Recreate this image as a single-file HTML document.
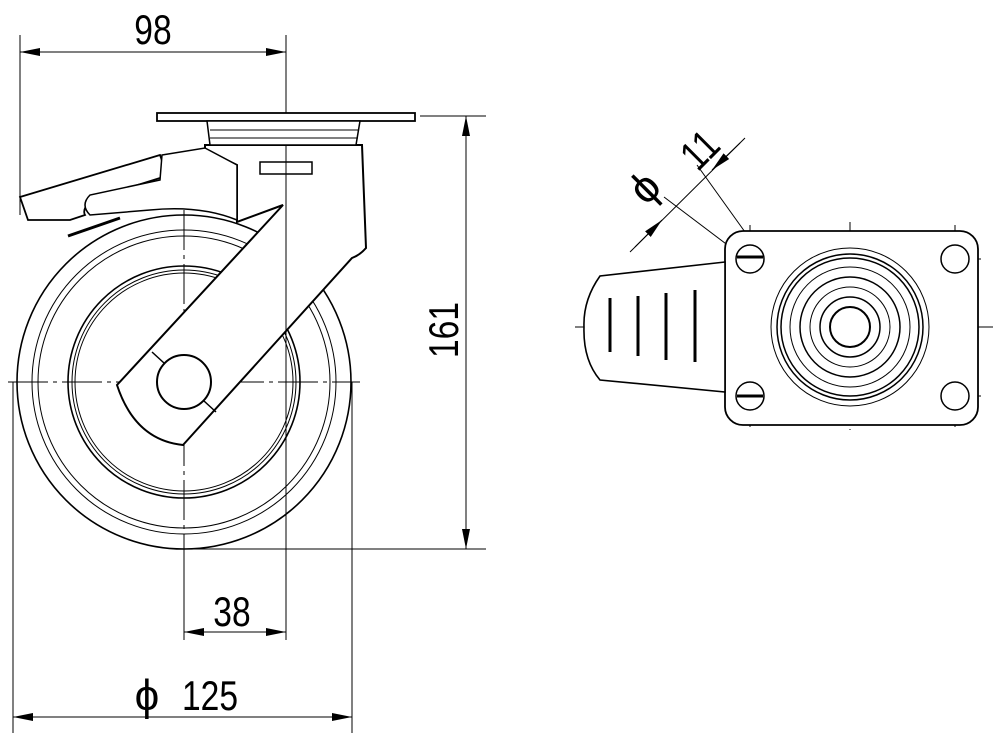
<!DOCTYPE html>
<html><head><style>
html,body{margin:0;padding:0;background:#fff;}
svg{display:block;}
text{font-family:"Liberation Sans",sans-serif;fill:#000;}
</style></head><body>
<svg width="1000" height="753" viewBox="0 0 1000 753" xmlns="http://www.w3.org/2000/svg">
<defs>
<marker id="a" viewBox="0 0 20 8" refX="20" refY="4" markerWidth="20" markerHeight="8" markerUnits="userSpaceOnUse" orient="auto-start-reverse"><path d="M0,0 L20,4 L0,8 Z" fill="#000"/></marker>
</defs>
<g fill="none" stroke="#000">
<g stroke-width="1" stroke-dasharray="40,5,4,5">
<line x1="8" y1="382" x2="360" y2="382"/>
<line x1="184" y1="210" x2="184" y2="640"/>
<line x1="575" y1="327" x2="995" y2="327"/>
<line x1="850" y1="222" x2="850" y2="430"/>
<line x1="750" y1="225" x2="750" y2="432"/>
<line x1="955" y1="225" x2="955" y2="432"/>
<line x1="725" y1="259" x2="985" y2="259"/>
<line x1="725" y1="396" x2="985" y2="396"/>
</g>
<g stroke-width="1">
<line x1="20" y1="35" x2="20" y2="215"/>
<line x1="286" y1="35" x2="286" y2="640"/>
<line x1="20" y1="52" x2="286" y2="52" marker-start="url(#a)" marker-end="url(#a)"/>
<line x1="420" y1="116" x2="486" y2="116"/>
<line x1="184" y1="549" x2="486" y2="549"/>
<line x1="466" y1="116" x2="466" y2="549" marker-start="url(#a)" marker-end="url(#a)"/>
<line x1="184" y1="549" x2="184" y2="640"/>
<line x1="184" y1="632" x2="286" y2="632" marker-start="url(#a)" marker-end="url(#a)"/>
<line x1="13" y1="382" x2="13" y2="733"/>
<line x1="352" y1="382" x2="352" y2="733"/>
<line x1="13" y1="717" x2="352" y2="717" marker-start="url(#a)" marker-end="url(#a)"/>
<line x1="630" y1="252" x2="745" y2="138"/>
<path d="M635,247 L662,220" marker-end="url(#a)"/>
<path d="M740,143 L712,170" marker-end="url(#a)"/>
<line x1="664" y1="197" x2="750" y2="262"/>
<line x1="697" y1="165" x2="745" y2="232"/>
</g>
<g stroke-width="1.6">
<circle cx="184" cy="382" r="167"/>
<circle cx="184" cy="382" r="152" stroke-width="1"/>
<circle cx="184" cy="382" r="146" stroke-width="1"/>
<circle cx="184" cy="382" r="116"/>
<circle cx="184" cy="382" r="112" stroke-width="1"/>
<circle cx="184" cy="382" r="109" stroke-width="1"/>
</g>
<path d="M205,145 L362,145 L366,248 Q360,255 352,258 L183,445 Q135,440 117,385 L283,205 L237,222 L237,165 L205,150 Z" fill="#fff" stroke-width="2"/>
<line x1="286" y1="145" x2="286" y2="370" stroke-width="1"/>
<circle cx="184" cy="382" r="27" fill="#fff" stroke-width="2"/>
<line x1="152" y1="352" x2="164" y2="363" stroke-width="1.5"/>
<line x1="204" y1="401" x2="216" y2="412" stroke-width="1.5"/>
<rect x="157" y="113" width="258" height="8" fill="#fff" stroke-width="1.8"/>
<path d="M207,121 L360,121 L356,145 L210,145 Z" fill="#fff" stroke-width="1.5"/>
<line x1="210" y1="130" x2="358" y2="130" stroke-width="1"/>
<line x1="210" y1="138" x2="358" y2="138" stroke-width="1"/>
<rect x="260" y="162" width="52" height="12" stroke-width="1.5"/>
<path d="M20,197 L160,155 Q166,170 160,178 L90,200 Q82,210 85,215 L70,220 L28,220 Z" fill="#fff" stroke-width="1.8"/>
<path d="M162,155 L205,148 L237,165 L237,220 Q200,205 150,210 L90,215 Q80,205 90,195 L160,180 Z" fill="#fff" stroke-width="1.5"/>
<line x1="68" y1="236" x2="120" y2="218" stroke-width="3"/>
<rect x="725" y="231" width="253" height="194" rx="18" fill="#fff" stroke-width="1.8"/>
<path d="M725,262 L600,276 Q583,300 584,327 Q583,360 600,380 L725,392 Z" fill="#fff" stroke-width="1.6"/>
<line x1="610" y1="298" x2="610" y2="352" stroke-width="3"/>
<line x1="638" y1="296" x2="638" y2="356" stroke-width="3"/>
<line x1="666" y1="293" x2="666" y2="360" stroke-width="3"/>
<line x1="695" y1="290" x2="695" y2="362" stroke-width="3"/>
<g stroke-width="1.5">
<circle cx="750" cy="259" r="14"/><circle cx="955" cy="259" r="14"/>
<circle cx="750" cy="396" r="14"/><circle cx="955" cy="396" r="14"/>
<line x1="737" y1="257" x2="763" y2="257" stroke-width="3"/>
<line x1="737" y1="396" x2="763" y2="396" stroke-width="3"/>
<circle cx="850" cy="327" r="79" stroke-width="1"/>
<circle cx="850" cy="327" r="73"/>
<circle cx="850" cy="327" r="69"/>
<circle cx="850" cy="327" r="60" stroke-width="1"/>
<circle cx="850" cy="327" r="50"/>
<circle cx="850" cy="327" r="40" stroke-width="1"/>
<circle cx="850" cy="327" r="30"/>
<circle cx="850" cy="327" r="20" stroke-width="2"/>
</g>
</g>
<text x="153" y="44" font-size="42" text-anchor="middle" transform="translate(153,0) scale(0.8,1) translate(-153,0)">98</text>
<text x="232" y="626" font-size="42" text-anchor="middle" transform="translate(232,0) scale(0.8,1) translate(-232,0)">38</text>
<text x="210" y="710" font-size="42" text-anchor="middle" transform="translate(210,0) scale(0.8,1) translate(-210,0)">125</text>
<text x="147" y="710" font-size="44" text-anchor="middle">ϕ</text>
<text x="0" y="0" font-size="42" text-anchor="middle" transform="translate(458,330) rotate(-90) scale(0.8,1)">161</text>
<text x="0" y="0" font-size="42" text-anchor="middle" transform="translate(710,160) rotate(-45) scale(0.8,1)">11</text>
<text x="0" y="0" font-size="44" text-anchor="middle" transform="translate(655,198) rotate(-45)">ϕ</text>
</svg>
</body></html>
